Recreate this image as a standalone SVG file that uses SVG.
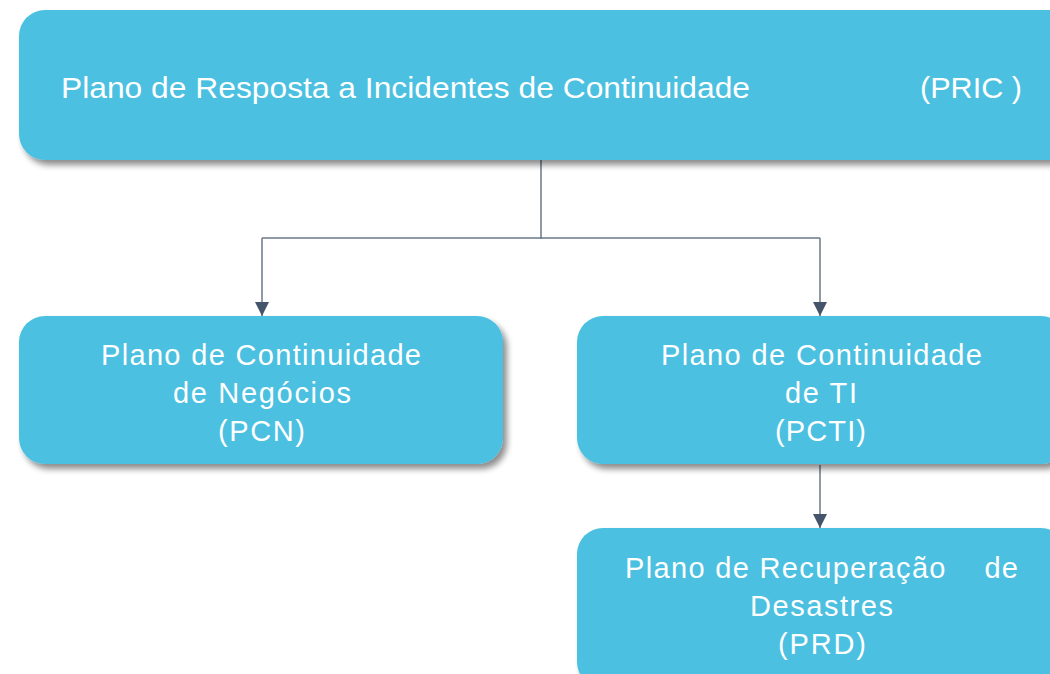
<svg xmlns="http://www.w3.org/2000/svg" width="1050" height="674" viewBox="0 0 1050 674">
<defs>
<style>
.box{fill:#4bc0e1;filter:url(#sh);}
.t{font-family:"Liberation Sans",Arial,sans-serif;fill:#ffffff;font-size:29px;}
.ln{stroke:#6b7788;stroke-width:1.5;fill:none;}
</style>
<filter id="sh" x="-10%" y="-20%" width="130%" height="150%">
<feGaussianBlur in="SourceAlpha" stdDeviation="3"/>
<feOffset dx="4" dy="5" result="b"/>
<feComponentTransfer><feFuncA type="linear" slope="0.45"/></feComponentTransfer>
<feMerge><feMergeNode/><feMergeNode in="SourceGraphic"/></feMerge>
</filter>
<marker id="ah2" viewBox="0 0 14 14" refX="14" refY="7" markerWidth="14" markerHeight="14" markerUnits="userSpaceOnUse" orient="auto">
<path d="M0,0 L14,7 L0,14 z" fill="#44546a"/>
</marker>
</defs>
<rect width="1050" height="674" fill="#ffffff"/>
<g id="connectors">
<line class="ln" x1="541" y1="160" x2="541" y2="239" stroke-width="2.5"/>
<polyline class="ln" points="262,238 820,238"/>
<line class="ln" x1="262" y1="238" x2="262" y2="316" marker-end="url(#ah2)"/>
<line class="ln" x1="820" y1="238" x2="820" y2="316" marker-end="url(#ah2)"/>
<line class="ln" x1="820" y1="465" x2="820" y2="528" marker-end="url(#ah2)"/>
</g>
<g id="pric">
<rect class="box" x="19" y="10" width="1060" height="150" rx="26"/>
<text class="t" x="61" y="98" textLength="689" lengthAdjust="spacingAndGlyphs">Plano de Resposta a Incidentes de Continuidade</text>
<text class="t" x="920" y="98" textLength="102" lengthAdjust="spacingAndGlyphs">(PRIC )</text>
</g>
<g id="pcn">
<rect class="box" x="19" y="316" width="484" height="148" rx="26"/>
<text class="t" x="101" y="365" textLength="320">Plano de Continuidade</text>
<text class="t" x="173" y="403" textLength="178">de Negócios</text>
<text class="t" x="218" y="441" textLength="87">(PCN)</text>
</g>
<g id="pcti">
<rect class="box" x="577" y="316" width="490" height="148" rx="26"/>
<text class="t" x="661" y="365" textLength="321">Plano de Continuidade</text>
<text class="t" x="785" y="403" textLength="72">de TI</text>
<text class="t" x="775" y="441" textLength="91">(PCTI)</text>
</g>
<g id="prd">
<rect class="box" x="577" y="528" width="490" height="160" rx="26"/>
<text class="t" x="625" y="578" textLength="393" xml:space="preserve">Plano de Recuperação    de</text>
<text class="t" x="750" y="616" textLength="143">Desastres</text>
<text class="t" x="778" y="654" textLength="88">(PRD)</text>
</g>
</svg>
